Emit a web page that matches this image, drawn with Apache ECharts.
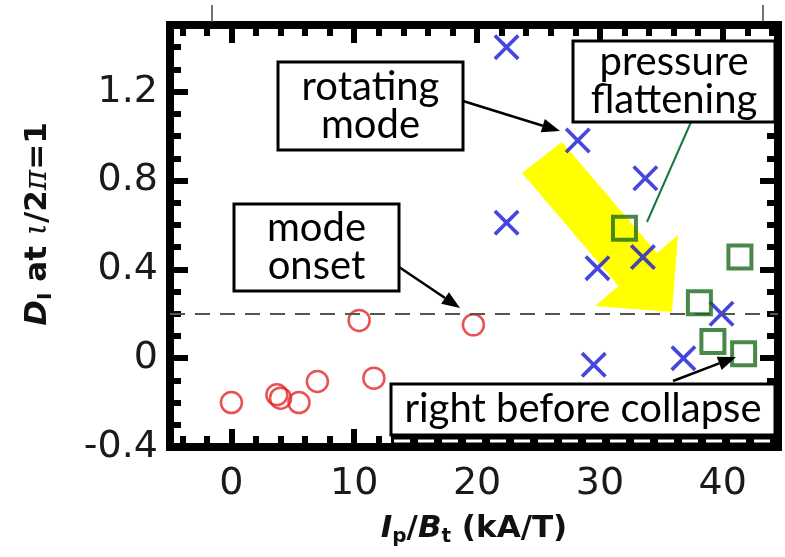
<!DOCTYPE html>
<html>
<head>
<meta charset="utf-8">
<script src="https://cdn.jsdelivr.net/npm/echarts@6/dist/echarts.min.js"></script>
<style>
  html, body { margin: 0; padding: 0; background: #fff; }
  #chart { width: 785px; height: 557px; }
</style>
</head>
<body>
<div id="chart"></div>
<script>
// D_I at iota/2pi = 1 versus Ip/Bt (kA/T), grouped by discharge phase
const onsetIp    = [0, 3.7, 4.0, 5.5, 7.0, 10.4, 11.6, 19.7];
const onsetD     = [-0.20, -0.165, -0.18, -0.20, -0.105, 0.17, -0.09, 0.15];
const rotatingIp = [22.4, 28.2, 22.4, 33.7, 29.8, 33.5, 29.5, 36.8, 39.9];
const rotatingD  = [1.40, 0.98, 0.61, 0.81, 0.405, 0.455, -0.03, 0.0, 0.20];
const flatIp     = [32.0, 41.4, 38.1, 39.2, 41.7];
const flatD      = [0.585, 0.455, 0.25, 0.075, 0.02];
const onsetLevel = 0.2;

const xTickLabels = [0, 10, 20, 30, 40];
const yTickLabels = [-0.4, 0, 0.4, 0.8, 1.2];

const X_MIN = -5, X_MAX = 44.5, Y_MIN = -0.4, Y_MAX = 1.5;

// frame ticks: minor every 2 kA/T and every 0.1 in D
const xFrameTicks = [];
for (let v = -4; v <= 44; v += 2) xFrameTicks.push(v);
const yFrameTicks = [];
for (let i = -3; i <= 14; i++) yFrameTicks.push(+(i / 10).toFixed(1));
const yMajorTicks = [0, 0.4, 0.8, 1.2];

const zip = (xs, ys) => xs.map((x, i) => [x, ys[i]]);

const chart = echarts.init(document.getElementById('chart'), null, { renderer: 'canvas' });

const ink = '#000';
function frameAxis(position, min, max, ticks, len, extra) {
  return Object.assign({
    type: 'value', position: position, min: min, max: max,
    axisLine: { show: false, onZero: false },
    splitLine: { show: false },
    axisTick: { show: true, inside: true, length: len, customValues: ticks,
                lineStyle: { color: ink, width: 6, cap: 'butt' } },
    axisLabel: { show: false }
  }, extra || {});
}

const nameFont = 'DejaVu Sans';
const baseTxt = { fontFamily: nameFont, fontWeight: 'bold', fontSize: 31, lineHeight: 36, color: '#111' };
const richName = {
  b:   Object.assign({}, baseTxt),
  bi:  Object.assign({}, baseTxt, { fontStyle: 'italic' }),
  g:   Object.assign({}, baseTxt, { fontFamily: 'DejaVu Serif', fontWeight: 'normal', fontStyle: 'italic' }),
  sub: { fontFamily: nameFont, fontWeight: 'bold', fontSize: 20, lineHeight: 20, verticalAlign: 'bottom', color: '#111' }
};

const tickLabelStyle = { fontFamily: 'DejaVu Sans', fontSize: 38, color: '#1a1a1a' };

const crossPath = 'path://M0,10L10,0L50,40L90,0L100,10L60,50L100,90L90,100L50,60L10,100L0,90L40,50Z';

// overlay artwork (pixel layout)
const boxes = [
  { text: 'rotating\nmode',       x: 278, y: 62,  w: 185, h: 88 },
  { text: 'pressure\nflattening', x: 573, y: 41,  w: 202, h: 81 },
  { text: 'mode\nonset',          x: 234, y: 204, w: 165, h: 87 },
  { text: 'right before collapse', x: 391, y: 384, w: 384, h: 51 }
];

function arrow(x1, y1, x2, y2, color, w, headL, headW) {
  const dx = x2 - x1, dy = y2 - y1, len = Math.hypot(dx, dy);
  const ux = dx / len, uy = dy / len;
  const bx = x2 - ux * headL, by = y2 - uy * headL;
  return [
    { type: 'line', z: 50, shape: { x1: x1, y1: y1, x2: bx, y2: by }, style: { stroke: color, lineWidth: w } },
    { type: 'polygon', z: 50, shape: { points: [[x2, y2], [bx - uy * headW / 2, by + ux * headW / 2], [bx + uy * headW / 2, by - ux * headW / 2]] },
      style: { fill: color } }
  ];
}

const graphics = [];
// big yellow trend arrow
graphics.push({
  type: 'polygon', z: 1,
  shape: { points: [[522, 173], [562, 142], [657, 253], [678, 235], [672, 312], [595, 306], [618.5, 286]] },
  style: { fill: '#ffff00' }
});
// leftover outer ticks above the frame
graphics.push({ type: 'line', z: 5, shape: { x1: 212, y1: 5, x2: 212, y2: 22 }, style: { stroke: '#444', lineWidth: 1.5 } });
graphics.push({ type: 'line', z: 5, shape: { x1: 763, y1: 5, x2: 763, y2: 22 }, style: { stroke: '#444', lineWidth: 1.5 } });
// leader lines
graphics.push(...arrow(463, 101, 560, 131, '#000', 2.5, 18, 14));
graphics.push(...arrow(399, 267, 460, 308, '#000', 2.5, 18, 14));
graphics.push(...arrow(673, 381, 736, 357, '#000', 2.5, 18, 14));
graphics.push({ type: 'line', z: 50, shape: { x1: 691, y1: 122, x2: 647, y2: 222 }, style: { stroke: '#137a3a', lineWidth: 2 } });
boxes.forEach(b => {
  graphics.push({ type: 'rect', z: 60, shape: { x: b.x, y: b.y, width: b.w, height: b.h },
                  style: { fill: '#fff', stroke: '#000', lineWidth: 3 } });
  graphics.push({ type: 'text', z: 61, style: {
    text: b.text, x: b.x + b.w / 2, y: b.y + b.h / 2,
    fontFamily: 'Lato', fontSize: 40, lineHeight: 38, fill: '#000',
    align: 'center', verticalAlign: 'middle' } });
});
// the collapse box merges into the bottom frame: dark band with white dashes
graphics.push({ type: 'rect', z: 62, shape: { x: 391, y: 436, width: 385, height: 9 }, style: { fill: '#000' } });
graphics.push({ type: 'line', z: 63, shape: { x1: 394, y1: 441, x2: 774, y2: 441 },
                style: { stroke: '#fff', lineWidth: 3, lineDash: [16, 8] } });

const option = {
  animation: false,
  backgroundColor: '#fff',
  grid: { left: 170, right: 7, top: 25, bottom: 110, show: true,
          borderColor: ink, borderWidth: 8, backgroundColor: 'transparent' },
  xAxis: [
    frameAxis('bottom', X_MIN, X_MAX, xFrameTicks, 11, {
      axisLabel: Object.assign({ show: true, customValues: xTickLabels, margin: 18 }, tickLabelStyle),
      name: '{bi|I}{sub|p}{b|/}{bi|B}{sub|t}{b| (kA/T)}',
      nameLocation: 'middle', nameGap: 64,
      nameTextStyle: { rich: richName }
    }),
    frameAxis('bottom', X_MIN, X_MAX, xTickLabels, 18),
    frameAxis('top', X_MIN, X_MAX, xFrameTicks, 11),
    frameAxis('top', X_MIN, X_MAX, xTickLabels, 18)
  ],
  yAxis: [
    frameAxis('left', Y_MIN, Y_MAX, yFrameTicks, 11, {
      axisLabel: Object.assign({ show: true, customValues: yTickLabels, margin: 12 }, tickLabelStyle),
      name: '{bi|D}{sub|I}{b| at }{g|ι}{b|/2}{g|π}{b|=1}',
      nameLocation: 'middle', nameGap: 114, nameRotate: 90,
      nameTextStyle: { rich: richName, padding: [0, 0, 0, 24] }
    }),
    frameAxis('left', Y_MIN, Y_MAX, yMajorTicks, 18),
    frameAxis('right', Y_MIN, Y_MAX, yFrameTicks, 11),
    frameAxis('right', Y_MIN, Y_MAX, yMajorTicks, 18)
  ],
  graphic: { elements: graphics },
  series: [
    {
      name: 'mode onset', type: 'scatter', xAxisIndex: 0, yAxisIndex: 0, z: 3,
      data: zip(onsetIp, onsetD),
      symbol: 'circle', symbolSize: 21,
      itemStyle: { color: 'rgba(0,0,0,0)', borderColor: '#e32727', borderWidth: 2.5 },
      markLine: {
        silent: true, symbol: 'none', label: { show: false },
        lineStyle: { color: '#555', width: 2, type: [15, 10] },
        data: [{ yAxis: onsetLevel }]
      }
    },
    {
      name: 'rotating mode', type: 'scatter', xAxisIndex: 0, yAxisIndex: 0, z: 4,
      data: zip(rotatingIp, rotatingD),
      symbol: crossPath, symbolSize: 26,
      itemStyle: { color: '#1818d6' }
    },
    {
      name: 'pressure flattening', type: 'scatter', xAxisIndex: 0, yAxisIndex: 0, z: 5,
      data: zip(flatIp, flatD),
      symbol: 'rect', symbolSize: 23,
      itemStyle: { color: 'rgba(0,0,0,0)', borderColor: '#1d6a1d', borderWidth: 4 }
    }
  ]
};

chart.setOption(option);
</script>
</body>
</html>
